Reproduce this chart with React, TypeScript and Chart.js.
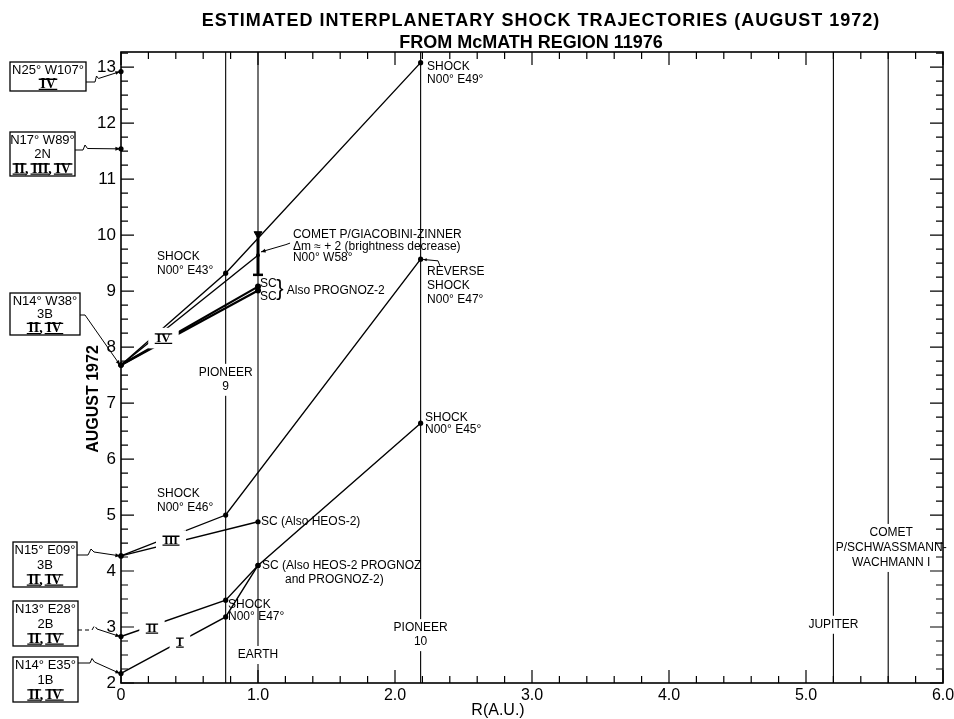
import React, { useEffect, useRef } from 'react';
import { Chart, registerables } from 'chart.js';

Chart.register(...registerables);

// ---------- text ----------
const TITLE_LINE_1 = 'ESTIMATED INTERPLANETARY SHOCK TRAJECTORIES (AUGUST 1972)';
const TITLE_LINE_2 = 'FROM McMATH REGION 11976';
const X_TITLE = 'R(A.U.)';
const Y_TITLE = 'AUGUST 1972';

// ---------- axis ----------
const xTickLabels = ['0', '1.0', '2.0', '3.0', '4.0', '5.0', '6.0'];
const yTickValues = [2, 3, 4, 5, 6, 7, 8, 9, 10, 11, 12, 13];

// ---------- reference distances (AU) ----------
const markerNames = [['PIONEER', '9'], ['EARTH'], ['PIONEER', '10'], ['JUPITER'], ['COMET', 'P/SCHWASSMANN-', 'WACHMANN I']];
const markerR = [0.764, 1.0, 2.187, 5.2, 5.6];
const markerLabelDay = [7.54, 2.5, 2.98, 3.04, 4.68];

// ---------- flares (origin at R = 0) ----------
const flareLocation = ['N25° W107°', 'N17° W89°', 'N14° W38°', 'N15° E09°', 'N13° E28°', 'N14° E35°'];
const flareClass = ['', '2N', '3B', '3B', '2B', '1B'];
const flareEvents = ['IV', 'II, III, IV', 'II, IV', 'II, IV', 'II, IV', 'II, IV'];
const flareDay = [12.92, 11.54, 7.68, 4.27, 2.83, 2.17];

// ---------- shock trajectories [R (AU), day of August 1972] ----------
const trajI = [[0, 2.17], [0.764, 3.18], [1.0, 4.1]];
const trajII = [[0, 2.83], [0.764, 3.48], [1.0, 4.1], [2.187, 6.64]];
const trajIIIa = [[0, 4.27], [0.764, 5.0], [2.187, 9.57]];
const trajIIIb = [[0, 4.27], [1.0, 4.88]];
const trajIVa = [[0, 7.68], [0.764, 9.32], [2.187, 13.08]];
const trajIVcomet = [[0, 7.68], [1.0, 9.64]];
const trajIVscA = [[0, 7.68], [1.0, 9.08]];
const trajIVscB = [[0, 7.68], [1.0, 9.01]];
const cometGZErrorBar = [[1.0, 9.29], [1.0, 10.02]];
const flareOnlyPoints = [[0, 12.92], [0, 11.54]];

// trajectory numeral labels [R, day]
const romanText = ['I', 'II', 'III', 'IV'];
const romanPos = [[0.43, 2.73], [0.226, 2.98], [0.365, 4.55], [0.31, 8.16]];

// annotation texts
const annText = [
  ['SHOCK', 'N00° E49°'],
  ['SHOCK', 'N00° E43°'],
  ['COMET P/GIACOBINI-ZINNER', 'Δm ≈ + 2 (brightness decrease)', 'N00° W58°'],
  ['SC', 'SC'],
  ['Also PROGNOZ-2'],
  ['REVERSE', 'SHOCK', 'N00° E47°'],
  ['SHOCK', 'N00° E45°'],
  ['SHOCK', 'N00° E46°'],
  ['SC (Also HEOS-2)'],
  ['SC (Also HEOS-2 PROGNOZ'],
  ['and PROGNOZ-2)'],
  ['SHOCK', 'N00° E47°'],
];
const annR = [2.234, 0.263, 1.255, 1.015, 1.21, 2.234, 2.219, 0.263, 1.022, 1.029, 1.197, 0.781];
const annDay = [13.0, 9.61, 10.0, 9.14, 9.0, 9.34, 6.73, 5.39, 4.89, 4.09, 3.84, 3.39];
const annLineGap = [13, 14, 11.5, 13, 13, 14, 12, 14, 13, 13, 13, 12];

const FONT = "'Liberation Sans', Arial, Helvetica, sans-serif";
const SERIF = "'Liberation Serif', 'Times New Roman', serif";

// layout of the flare boxes on the left (pixels)
const boxRects = [
  [10, 62, 86, 91],
  [10, 132, 75, 176],
  [10, 293, 80, 335],
  [13, 542, 77, 587],
  [13, 601, 78, 646],
  [13, 657, 78, 702],
];
const boxConnectors = [
  [[86, 82], [95, 82], [96.5, 76], [98.5, 78.5]],
  [[75, 150], [83, 150], [85, 145], [87.5, 148.5]],
  [[80, 315], [85, 315]],
  [[77, 555], [88, 555], [91, 549], [94, 552]],
  [[78, 630], [92, 630], [94.5, 625.5], [97, 629]],
  [[78, 663], [90, 663], [92, 658.5], [94.5, 662]],
];

function toPts(a: number[][]) {
  return a.map(([x, y]) => ({ x, y }));
}

function lineDs(a: number[][], width = 1.4, extra: any = {}) {
  return {
    data: toPts(a),
    borderColor: '#000',
    backgroundColor: '#000',
    borderWidth: width,
    pointRadius: 2.6,
    pointBorderWidth: 0,
    pointBackgroundColor: '#000',
    tension: 0,
    clip: false,
    ...extra,
  };
}

function drawRoman(ctx: any, text: string, cx: number, cy: number, size: number, bg: boolean) {
  ctx.save();
  ctx.font = `bold ${size}px ${SERIF}`;
  ctx.textBaseline = 'middle';
  ctx.textAlign = 'left';
  const parts = text.split(', ');
  const sep = ', ';
  const sepW = ctx.measureText(sep).width;
  const widths = parts.map((p) => ctx.measureText(p).width);
  const total = widths.reduce((a, b) => a + b, 0) + sepW * (parts.length - 1);
  const capH = size * 0.66;
  if (bg) {
    ctx.fillStyle = '#fff';
    ctx.fillRect(cx - total / 2 - 8, cy - capH / 2 - 6, total + 16, capH + 12);
  }
  ctx.fillStyle = '#000';
  ctx.strokeStyle = '#000';
  ctx.lineWidth = 1.3;
  let x = cx - total / 2;
  parts.forEach((p, i) => {
    ctx.fillText(p, x, cy + 0.5);
    const w = widths[i];
    ctx.beginPath();
    ctx.moveTo(x - 1.5, cy - capH / 2);
    ctx.lineTo(x + w + 1.5, cy - capH / 2);
    ctx.moveTo(x - 1.5, cy + capH / 2 + 1);
    ctx.lineTo(x + w + 1.5, cy + capH / 2 + 1);
    ctx.stroke();
    x += w;
    if (i < parts.length - 1) {
      ctx.fillText(sep, x, cy + 0.5);
      x += sepW;
    }
  });
  ctx.restore();
}

function arrowHead(ctx: any, from: number[], to: number[], size: number) {
  const ang = Math.atan2(to[1] - from[1], to[0] - from[0]);
  ctx.beginPath();
  ctx.moveTo(to[0], to[1]);
  ctx.lineTo(to[0] - size * Math.cos(ang - 0.4), to[1] - size * Math.sin(ang - 0.4));
  ctx.lineTo(to[0] - size * Math.cos(ang + 0.4), to[1] - size * Math.sin(ang + 0.4));
  ctx.closePath();
  ctx.fill();
}

const overlayPlugin = {
  id: 'overlay',
  afterDatasetsDraw(chart: any) {
    const ctx = chart.ctx;
    const xs = chart.scales.x;
    const ys = chart.scales.y;
    const px = (r: number) => xs.getPixelForValue(r);
    const py = (d: number) => ys.getPixelForValue(d);
    const { left, right, top, bottom } = chart.chartArea;

    ctx.save();
    ctx.fillStyle = '#000';
    ctx.strokeStyle = '#000';

    // marker labels (with a gap cut into the vertical line)
    ctx.font = `12px ${FONT}`;
    ctx.textAlign = 'center';
    ctx.textBaseline = 'middle';
    markerNames.forEach((lines, i) => {
      const x = px(markerR[i]);
      const y0 = py(markerLabelDay[i]);
      const gap = i === 4 ? 15 : 14;
      const h = gap * (lines.length - 1);
      ctx.fillStyle = '#fff';
      ctx.fillRect(x - 3, y0 - 9, 6, h + 18);
      ctx.fillStyle = '#000';
      const cx = i === 4 ? x + 3 : x;
      lines.forEach((t, k) => ctx.fillText(t, cx, y0 + k * gap));
    });

    // roman numerals on trajectories
    romanText.forEach((t, i) => {
      drawRoman(ctx, t, px(romanPos[i][0]), py(romanPos[i][1]), t === 'IV' ? 13 : 12, true);
    });

    // annotations
    ctx.font = `12px ${FONT}`;
    ctx.textAlign = 'left';
    ctx.textBaseline = 'middle';
    annText.forEach((lines, i) => {
      const x = px(annR[i]);
      const y0 = py(annDay[i]);
      lines.forEach((t, k) => ctx.fillText(t, x, y0 + k * annLineGap[i]));
    });

    // brace after SC / SC
    ctx.font = `22px ${FONT}`;
    ctx.textAlign = 'center';
    ctx.fillText('}', px(1.16), py(9.03));

    // comet G-Z arrow
    ctx.lineWidth = 1;
    const a1 = [px(1.234), py(9.857)];
    const a2 = [px(1.204), py(9.83)];
    const a3 = [px(1.022), py(9.7)];
    ctx.beginPath();
    ctx.moveTo(a1[0], a1[1]);
    ctx.lineTo(a2[0], a2[1]);
    ctx.lineTo(a3[0], a3[1]);
    ctx.stroke();
    arrowHead(ctx, a2, a3, 5);

    // reverse shock arrow
    const b1 = [px(2.328), py(9.45)];
    const b2 = [px(2.314), py(9.54)];
    const b3 = [px(2.205), py(9.565)];
    ctx.beginPath();
    ctx.moveTo(b1[0], b1[1]);
    ctx.lineTo(b2[0], b2[1]);
    ctx.lineTo(b3[0], b3[1]);
    ctx.stroke();
    arrowHead(ctx, b2, b3, 4);

    // frame
    ctx.lineWidth = 1.6;
    ctx.strokeRect(left, top, right - left, bottom - top);

    // ticks
    ctx.lineWidth = 1.2;
    ctx.beginPath();
    for (let i = 0; i <= 30; i++) {
      const x = px(i * 0.2);
      const L = i % 5 === 0 ? 13 : 7;
      ctx.moveTo(x, bottom);
      ctx.lineTo(x, bottom - L);
      ctx.moveTo(x, top);
      ctx.lineTo(x, top + L);
    }
    for (let i = 0; 2 + i * 0.25 <= ys.max + 1e-9; i++) {
      const y = py(2 + i * 0.25);
      const L = i % 4 === 0 ? 13 : 7;
      ctx.moveTo(left, y);
      ctx.lineTo(left + L, y);
      ctx.moveTo(right, y);
      ctx.lineTo(right - L, y);
    }
    ctx.stroke();

    // flare boxes
    flareLocation.forEach((loc, i) => {
      const [x0, y0, x1, y1] = boxRects[i];
      ctx.lineWidth = 1.3;
      ctx.strokeRect(x0, y0, x1 - x0, y1 - y0);
      const cx = (x0 + x1) / 2;
      const lines = [loc];
      if (flareClass[i]) lines.push(flareClass[i]);
      const n = lines.length + 1;
      const step = (y1 - y0) / (n + 0.15);
      ctx.font = `13px ${FONT}`;
      ctx.textAlign = 'center';
      ctx.textBaseline = 'middle';
      ctx.fillStyle = '#000';
      lines.forEach((t, k) => ctx.fillText(t, cx, y0 + step * (k + 0.62)));
      drawRoman(ctx, flareEvents[i], cx, y0 + step * (lines.length + 0.62), 14, false);

      // connector to the flare point on the R = 0 axis
      const pts = boxConnectors[i];
      const target = [px(0) - 1, py(flareDay[i])];
      ctx.lineWidth = 1;
      if (i === 4) ctx.setLineDash([4, 3]);
      ctx.beginPath();
      ctx.moveTo(pts[0][0], pts[0][1]);
      for (let k = 1; k < pts.length; k++) ctx.lineTo(pts[k][0], pts[k][1]);
      ctx.stroke();
      ctx.setLineDash([]);
      ctx.beginPath();
      const last = pts[pts.length - 1];
      ctx.moveTo(last[0], last[1]);
      ctx.lineTo(target[0], target[1]);
      ctx.stroke();
      arrowHead(ctx, last, target, 5);
    });

    // titles
    ctx.fillStyle = '#000';
    ctx.textAlign = 'center';
    ctx.textBaseline = 'middle';
    ctx.font = `bold 18px ${FONT}`;
    (ctx as any).letterSpacing = '1px';
    ctx.fillText(TITLE_LINE_1, 541, 21);
    (ctx as any).letterSpacing = '0px';
    ctx.fillText(TITLE_LINE_2, 531, 43);
    ctx.font = `16px ${FONT}`;
    ctx.fillText(X_TITLE, 498, 711);
    ctx.save();
    ctx.translate(94, 399);
    ctx.rotate(-Math.PI / 2);
    ctx.font = `bold 16px ${FONT}`;
    ctx.fillText(Y_TITLE, 0, 0);
    ctx.restore();

    ctx.restore();
  },
};

export default function App() {
  const ref = useRef<HTMLCanvasElement | null>(null);

  useEffect(() => {
    const canvas = ref.current;
    if (!canvas) return;

    const verticals = markerR.map((r) =>
      lineDs([[r, 2], [r, 13.27]], 1.1, { pointRadius: 0 })
    );

    const datasets: any[] = [
      ...verticals,
      lineDs(trajI),
      lineDs(trajII),
      lineDs(trajIIIa),
      lineDs(trajIIIb),
      lineDs(trajIVa),
      lineDs(trajIVcomet, 1.4, { pointRadius: [2.6, 2] }),
      lineDs(trajIVscA, 2.2, { pointRadius: [2.6, 3] }),
      lineDs(trajIVscB, 2.2, { pointRadius: [2.6, 3] }),
      lineDs(cometGZErrorBar, 3, {
        pointStyle: ['line', 'triangle'],
        pointRadius: [5, 4.5],
        pointRotation: [0, 180],
        pointBorderWidth: [2.5, 1],
        pointBorderColor: '#000',
      }),
      lineDs(flareOnlyPoints, 0, { showLine: false }),
    ];

    const chart = new Chart(canvas, {
      type: 'line',
      data: { datasets },
      options: {
        responsive: false,
        animation: false,
        devicePixelRatio: 1,
        events: [],
        layout: { padding: { top: 52, right: 0, left: 0, bottom: 0 } },
        plugins: {
          legend: { display: false },
          tooltip: { enabled: false },
          title: { display: false },
        },
        scales: {
          x: {
            type: 'linear',
            min: 0,
            max: 6,
            grid: { display: false, drawTicks: false },
            border: { display: false },
            ticks: {
              stepSize: 1,
              includeBounds: false,
              autoSkip: false,
              maxRotation: 0,
              padding: 3,
              color: '#000',
              font: { family: FONT, size: 16 },
              callback: (v: any) => xTickLabels[Math.round(v)] ?? '',
            },
            afterFit: (s: any) => {
              s.height = 36;
              s.paddingLeft = 0;
              s.paddingRight = 11;
            },
          },
          y: {
            type: 'linear',
            min: 2,
            max: 13.27,
            grid: { display: false, drawTicks: false },
            border: { display: false },
            ticks: {
              stepSize: 1,
              includeBounds: false,
              autoSkip: false,
              padding: 5,
              color: '#000',
              font: { family: FONT, size: 17 },
              callback: (v: any) => (yTickValues.includes(v) ? String(v) : ''),
            },
            afterFit: (s: any) => {
              s.width = 121;
              s.paddingTop = 0;
              s.paddingBottom = 0;
            },
          },
        },
      } as any,
      plugins: [overlayPlugin],
    });

    return () => chart.destroy();
  }, []);

  return (
    <div style={{ position: 'fixed', left: 0, top: 0, width: 954, height: 719, background: '#fff' }}>
      <canvas ref={ref} width={954} height={719} style={{ display: 'block', width: 954, height: 719 }} />
    </div>
  );
}
